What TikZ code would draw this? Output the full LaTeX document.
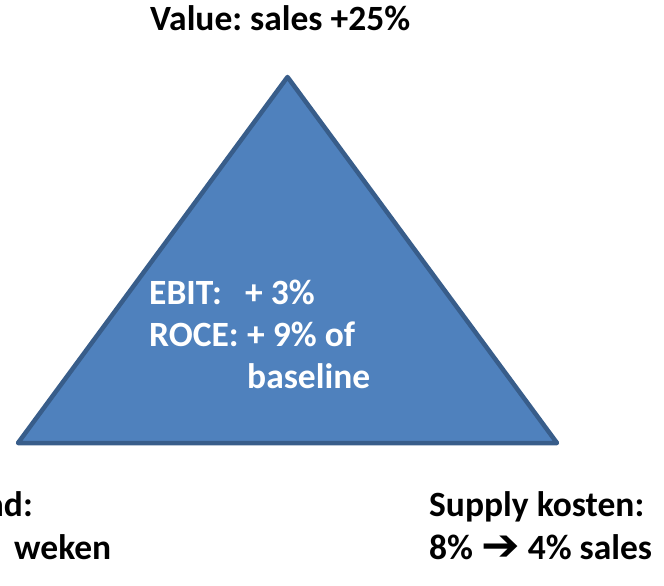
\documentclass[tikz,border=0pt]{standalone}
\usepackage{fontspec}
\setmainfont{Carlito}
\newfontfamily\arrowfont{DejaVu Sans}
\definecolor{trifill}{HTML}{4F81BD}
\definecolor{tridraw}{HTML}{385D8A}
\frenchspacing
\begin{document}
\begin{tikzpicture}[x=1pt,y=-1pt,
  txt/.style={inner sep=0pt, anchor=base west, font=\fontsize{35.5}{42}\selectfont\bfseries\frenchspacing},
  wtxt/.style={txt, text=white},
  tri/.style={fill=trifill, draw=tridraw, line width=4.5pt, line join=round}]
\useasboundingbox (0,0) rectangle (664,586);
\coordinate (apex) at (287.5,77);
\coordinate (bl) at (18,443);
\coordinate (br) at (557,443);
\draw[tri] (apex) -- (br) -- (bl) -- cycle;
\node[txt] (value) at (150,31) {Value: sales +25\%};
\node[wtxt] (ebitl) at (149,304) {EBIT:};
\node[wtxt] (ebitv) at (245,304) {+ 3\%};
\node[wtxt] (rocel) at (149,346) {ROCE:};
\node[wtxt] (rocev) at (247,346) {+ 9\% of};
\node[wtxt] (rocev2) at (247,388) {baseline};
\node[txt, anchor=base east] (lead1) at (33,516) {ad:};
\node[txt] (lead2) at (14,559) {weken};
\node[txt] (sup1) at (429,516) {Supply kosten:};
\node[txt] (sup2) at (429,559) {8\% \raisebox{-1pt}{\scalebox{1.3}[1.25]{\arrowfont\bfseries ➔}} 4\% sales};
\end{tikzpicture}
\end{document}
